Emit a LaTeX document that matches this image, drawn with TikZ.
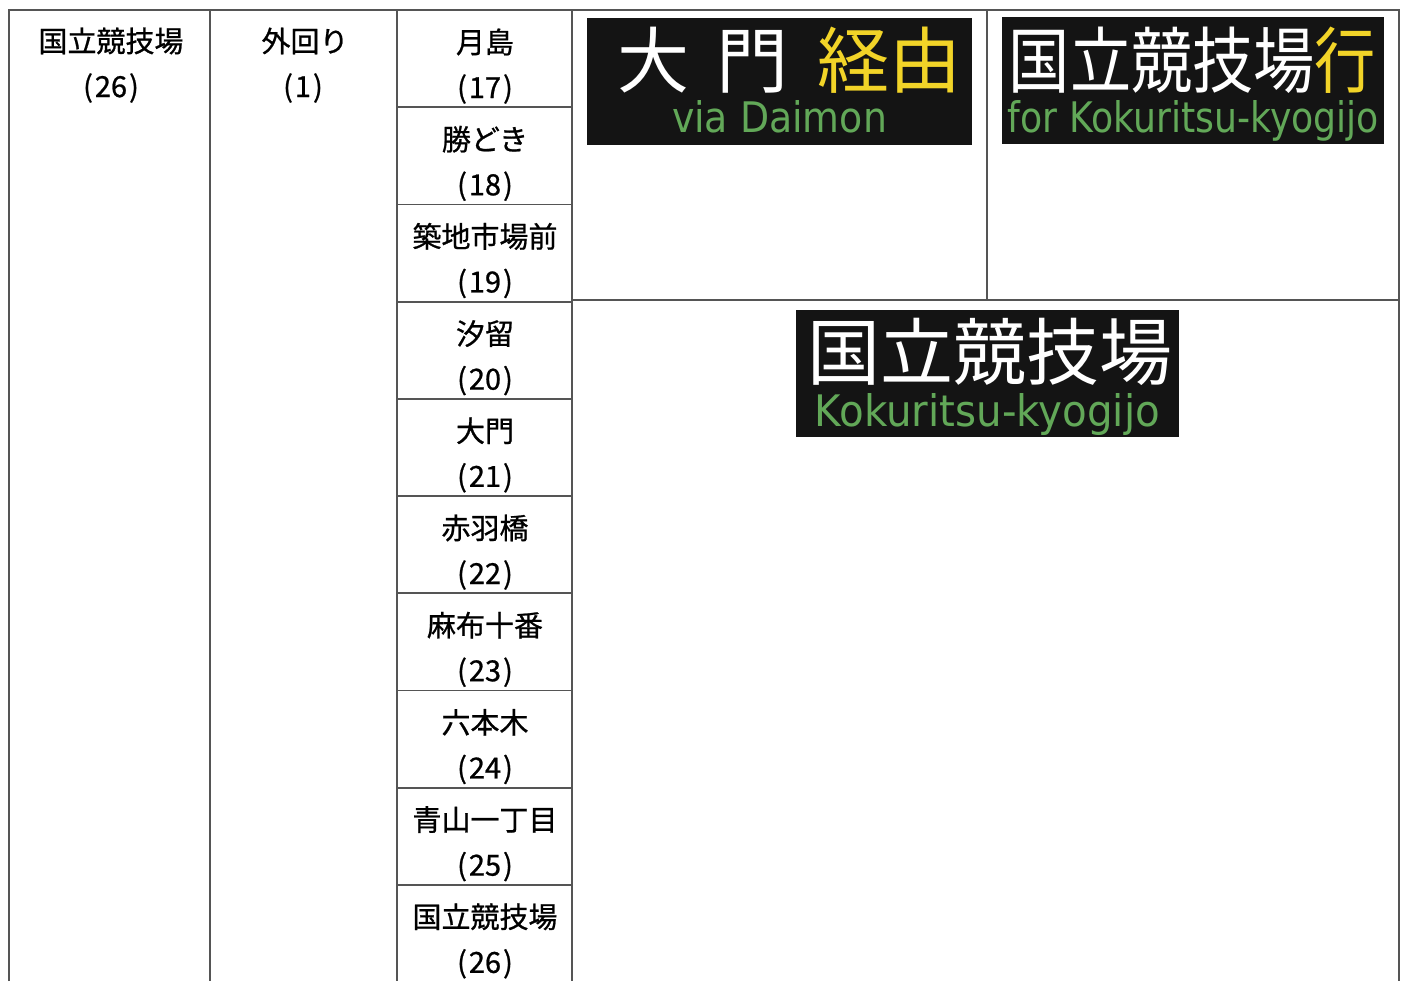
\documentclass[tikz,border=0pt]{standalone}
\usepackage{fontspec}
\usepackage{graphicx}
\setmainfont{Noto Sans CJK JP}
\newfontfamily\cellfont{Noto Sans CJK JP}[FakeBold=0.8]
\newfontfamily\latsign{DejaVu Sans}
\newcommand{\pgap}{\hspace{1pt}}
\definecolor{gridc}{RGB}{85,85,85}
\definecolor{signbg}{RGB}{20,20,20}
\definecolor{signyellow}{RGB}{242,212,40}
\definecolor{signgreen}{RGB}{98,168,88}
\tikzset{
  grid/.style={draw=gridc, line width=0.9pt},
  celltext/.style={inner sep=0pt, anchor=center, font=\cellfont\fontsize{14.5pt}{17pt}\selectfont, text=black},
  signbox/.style={fill=signbg, draw=none, inner sep=0pt, minimum height=63.5pt},
  bigtext/.style={inner sep=0pt, anchor=center, text=white, font=\fontsize{36pt}{40pt}\selectfont},
  lattext/.style={inner sep=0pt, anchor=base, text=signgreen},
}
\begin{document}
\begin{tikzpicture}[x=0.5pt,y=-0.5pt]
\useasboundingbox[fill=white] (0,0) rectangle (1404,981);
% table lines
\draw[grid] (9,981) -- (9,10) -- (1399,10) -- (1399,981);
\draw[grid] (210,10) -- (210,981);
\draw[grid] (397,10) -- (397,981);
\draw[grid] (572,10) -- (572,981);
\draw[grid] (987,10) -- (987,300);
\draw[grid] (572,300) -- (1399,300);
% left columns
\node[celltext] (dest) at (111,41) {国立競技場};
\node[celltext] (destno) at (111,88) {(\pgap26\pgap)};
\node[celltext] (loop) at (305,41) {外回り};
\node[celltext] (loopno) at (303,88) {(\pgap1\pgap)};
% stations
\foreach \nm/\num [count=\i from 0] in {月島/17,勝どき/18,築地市場前/19,汐留/20,大門/21,赤羽橋/22,麻布十番/23,六本木/24,青山一丁目/25,国立競技場/26}{
  \pgfmathsetmacro{\T}{10+97.2*\i}
  \ifnum\i>0 \draw[grid] (397,\T) -- (572,\T); \fi
  \node[celltext] (st\i) at (485,\T+32) {\nm};
  \node[celltext] (no\i) at (485,\T+79) {(\pgap\num\pgap)};
}
% sign 1
\node[signbox, minimum width=192.5pt] (s1) at (779.5,81.5) {};
\node[bigtext] (s1jp) at (789,60.5) {大\hspace{14pt}門\hspace{14pt}\textcolor{signyellow}{経由}};
\node[lattext] (s1en) at (779.5,132) {\resizebox{107.5pt}{16pt}{\latsign via Daimon}};
% sign 2
\node[signbox, minimum width=191pt] (s2) at (1193,80.5) {};
\node[bigtext] (s2jp) at (1192.5,60.5) {\scalebox{0.85}[1]{国立競技場\textcolor{signyellow}{行}}};
\node[lattext] (s2en) at (1193.5,132) {\resizebox{185.5pt}{16pt}{\latsign for Kokuritsu-kyogijo}};
% sign 3
\node[signbox, minimum width=191.5pt] (s3) at (987.5,373.5) {};
\node[bigtext, font=\fontsize{36.5pt}{40pt}\selectfont] (s3jp) at (989.5,351.5) {国立競技場};
\node[lattext] (s3en) at (987.5,426) {\resizebox{172.5pt}{16.5pt}{\latsign Kokuritsu-kyogijo}};
\end{tikzpicture}
\end{document}
